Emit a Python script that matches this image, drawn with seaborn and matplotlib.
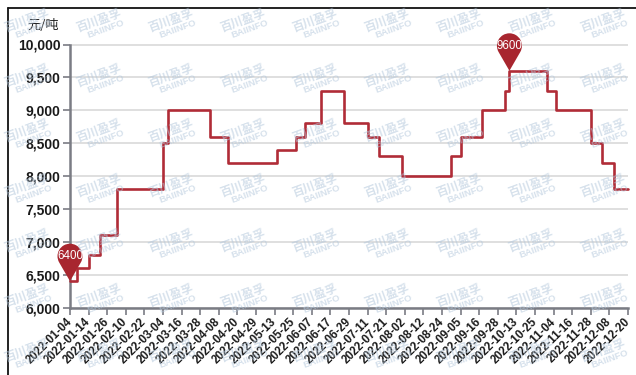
import numpy as np
import pandas as pd
import matplotlib
matplotlib.use("Agg")
import matplotlib.pyplot as plt
import matplotlib.transforms as mtransforms
from matplotlib.path import Path
from matplotlib.patches import PathPatch
from matplotlib.lines import Line2D
import seaborn as sns

# Price steps: index of the working day on which each price takes effect
change_day = [0, 3, 8, 13, 20, 40, 42, 60, 68, 89, 97, 101, 108, 118, 128, 133,
              143, 164, 168, 177, 187, 189, 205, 209, 224, 229, 234, 240]
price = [6400, 6600, 6800, 7100, 7800, 8500, 9000, 8600, 8200, 8400, 8600, 8800,
         9300, 8800, 8600, 8300, 8000, 8300, 8600, 9000, 9300, 9600, 9300, 9000,
         8500, 8200, 7800, 7800]

# Category labels shown on the x axis (every 8th working day)
tick_labels = ["2022-01-04", "2022-01-14", "2022-01-26", "2022-02-10", "2022-02-22",
               "2022-03-04", "2022-03-16", "2022-03-28", "2022-04-08", "2022-04-20",
               "2022-04-29", "2022-05-13", "2022-05-25", "2022-06-07", "2022-06-17",
               "2022-06-29", "2022-07-11", "2022-07-21", "2022-08-02", "2022-08-12",
               "2022-08-24", "2022-09-05", "2022-09-16", "2022-09-28", "2022-10-13",
               "2022-10-25", "2022-11-04", "2022-11-16", "2022-11-28", "2022-12-08",
               "2022-12-20"]
tick_step = 8

y_ticks = [6000, 6500, 7000, 7500, 8000, 8500, 9000, 9500, 10000]
unit_label = "元/吨"
watermark_cn = "百川盈孚"
watermark_en = "BAIINFO"

sns.set_style("white")
plt.rcParams["font.family"] = ["Liberation Sans", "Noto Sans CJK SC", "DejaVu Sans"]

W, H = 636, 375
fig = plt.figure(figsize=(W / 100, H / 100), dpi=100)
fig.patch.set_facecolor("white")

left_px, right_px, top_px, bottom_px = 70, 628, 44.5, 307.5
ax = fig.add_axes([left_px / W, 1 - bottom_px / H,
                   (right_px - left_px) / W, (bottom_px - top_px) / H])
ax.set_facecolor("white")

df = pd.DataFrame({"day": change_day, "price": price})
line_color = "#b02c37"
sns.lineplot(data=df, x="day", y="price", ax=ax, color=line_color,
             linewidth=1.9, drawstyle="steps-post", zorder=3, clip_on=False)

ax.set_xlim(0, (len(tick_labels) - 1) * tick_step)
ax.set_ylim(y_ticks[0], y_ticks[-1])
ax.set_xlabel("")
ax.set_ylabel("")

ax.set_yticks(y_ticks)
ax.set_yticklabels([f"{v:,}" for v in y_ticks], fontsize=10, fontweight="bold",
                   color="#1a1a1a")
ax.set_xticks(np.arange(len(tick_labels)) * tick_step)
ax.set_xticklabels(tick_labels, rotation=45, ha="right", va="center",
                   rotation_mode="anchor", fontsize=8.3, fontweight="bold",
                   color="#1a1a1a")

axis_color = "#7a7c84"
ax.tick_params(axis="y", length=5, width=1.2, color=axis_color, pad=2, left=True)
ax.tick_params(axis="x", length=5, width=1.2, color=axis_color, pad=4, bottom=True)
ax.yaxis.grid(True, color="#d9d9d9", linewidth=1.2)
ax.xaxis.grid(False)
ax.set_axisbelow(True)
for side in ["top", "right"]:
    ax.spines[side].set_visible(False)
for side in ["left", "bottom"]:
    ax.spines[side].set_color(axis_color)
    ax.spines[side].set_linewidth(1.8)

# Pin markers for the minimum and maximum price
pin_color = "#a8262f"
arc = Path.arc(-30, 210)
pin_verts = [(0, 0)] + [(vx, vy + 2) for vx, vy in arc.vertices] + [(0, 0)]
pin_codes = [Path.MOVETO, Path.LINETO] + list(arc.codes[1:]) + [Path.CLOSEPOLY]
pin_path = Path(pin_verts, pin_codes)
r_px = 12.5
for idx in [int(np.argmin(price)), int(np.argmax(price))]:
    px, py = change_day[idx], price[idx]
    trans = mtransforms.Affine2D().scale(r_px) + \
        mtransforms.ScaledTranslation(px, py, ax.transData)
    ax.add_patch(PathPatch(pin_path, transform=trans, facecolor=pin_color,
                           edgecolor="none", zorder=5, clip_on=False))
    ax.annotate(str(py), xy=(px, py), xytext=(0, 2 * r_px * 0.72),
                textcoords="offset points", ha="center", va="center",
                color="white", fontsize=8.3, zorder=6, annotation_clip=False)

# Unit label
fig.text(27 / W, 1 - 25.5 / H, unit_label, fontsize=9.5, ha="left", va="center",
         family=["Noto Sans CJK SC", "DejaVu Sans"], color="#222222")

# Frame lines
fig.add_artist(Line2D([8 / W, 1], [1 - 7.5 / H, 1 - 7.5 / H], color="#111111",
                      linewidth=1.3, transform=fig.transFigure))
fig.add_artist(Line2D([8 / W, 8 / W], [0, 1 - 7.5 / H], color="#111111",
                      linewidth=1.3, transform=fig.transFigure))

# Tiled watermark
ang = 20
u = np.array([np.cos(np.radians(ang)), np.sin(np.radians(ang))])
n = np.array([-u[1], u[0]])
wm_color = "#b4c8dc"
for cy in np.arange(24, 360, 55):
    for cx in np.arange(30, 620, 72):
        c = np.array([cx, H - cy], dtype=float)
        p1 = c + 4.5 * n - 1.5 * u
        p2 = c - 6.0 * n + 2.0 * u
        fig.text(p1[0] / W, p1[1] / H, watermark_cn, rotation=ang, fontsize=8.5,
                 fontweight="bold", ha="center", va="center", color=wm_color,
                 alpha=0.55, family=["Noto Sans CJK SC", "DejaVu Sans"],
                 rotation_mode="anchor", zorder=10)
        fig.text(p2[0] / W, p2[1] / H, watermark_en, rotation=ang, fontsize=6.8,
                 fontweight="bold", ha="center", va="center", color=wm_color,
                 alpha=0.55, family=["Liberation Sans", "DejaVu Sans"],
                 rotation_mode="anchor", zorder=10)

fig.savefig("out.png", dpi=100, facecolor="white")
